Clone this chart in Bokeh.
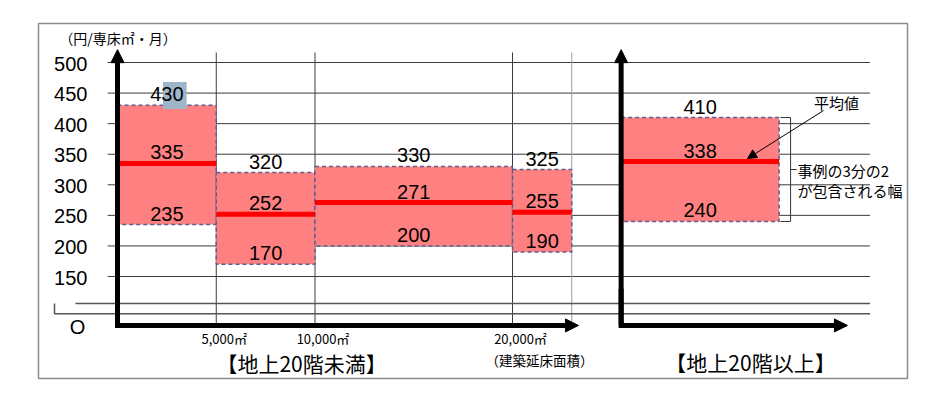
from bokeh.plotting import figure
from bokeh.models import Range1d, Arrow, NormalHead
from bokeh.core.properties import value
from bokeh.embed import file_html
from bokeh.resources import INLINE

# ---------------- data ----------------
categories = ["5,000㎡未満", "5,000〜10,000㎡", "10,000〜20,000㎡", "20,000㎡以上", "地上20階以上"]
upper = [430, 320, 330, 325, 410]     # 上限（事例の3分の2が包含される幅）
mean = [335, 252, 271, 255, 338]      # 平均値
lower = [235, 170, 200, 190, 240]     # 下限
y_ticks = [150, 200, 250, 300, 350, 400, 450, 500]
area_ticks = [5, 10, 20]              # 千㎡
area_tick_labels = ["5,000㎡", "10,000㎡", "20,000㎡"]

# ---------------- layout (x: floor area in 千㎡, y: 円/専床㎡・月) ----------------
box_left = [0, 5, 10, 20, 25.5]
box_right = [5, 10, 20, 23, 33.5]
grid_x = [5, 10, 20, 23]
AX1_X, AX2_X = 0, 25.5          # the two vertical axis arrows
AXIS_BASE = 70                  # broken axis: origin drawn here
AX_TIP_Y = 521
GRID_TOP = 516.4
GRID_L, GRID_R = -0.5, 38.1
X1_TIP, X2_TIP = 23.34, 36.96

NUM = value("Liberation Sans")
JP = value("Noto Sans CJK JP")

p = figure(width=909, height=380, x_range=Range1d(-4, 40), y_range=Range1d(-16.8, 563.8),
           min_border_left=38, min_border_top=23, min_border_right=2, min_border_bottom=2,
           x_axis_type=None, y_axis_type=None, toolbar_location=None, output_backend="svg",
           title=None)
p.outline_line_color = "#8c8c8c"
p.outline_line_width = 1.5
p.background_fill_color = "white"
p.border_fill_color = "white"

# horizontal grid lines (also act as ticks left of the axis)
p.segment(x0=[GRID_L] * len(y_ticks), x1=[GRID_R] * len(y_ticks), y0=y_ticks, y1=y_ticks,
          line_color="#3c3c3c", line_width=1)
# vertical grid lines
p.segment(x0=grid_x[:3], x1=grid_x[:3], y0=[GRID_TOP] * 3, y1=[AXIS_BASE] * 3,
          line_color="#3c3c3c", line_width=1)
p.segment(x0=grid_x[3:], x1=grid_x[3:], y0=[GRID_TOP], y1=[AXIS_BASE],
          line_color="#9a9a9a", line_width=1)
# axis break marks
p.line(x=[-3.19, -3.19, GRID_R], y=[106, 89, 89], line_color="#555555", line_width=1.5)
p.line(x=[-2.13, GRID_R], y=[106, 106], line_color="#555555", line_width=1.5)

# boxes
p.quad(left=box_left, right=box_right, bottom=lower, top=upper,
       fill_color="#ff8080", line_color="#5b5f8c", line_width=1.5, line_dash="4 3")
# mean lines
p.segment(x0=box_left, x1=box_right, y0=mean, y1=mean, line_color="#ff0000", line_width=5)

centers = [(a + b) / 2 for a, b in zip(box_left, box_right)]
# selection highlight behind "30" of the first max label
p.quad(left=[centers[0] - 0.2], right=[centers[0] + 1.0], bottom=[upper[0] - 6], top=[upper[0] + 38],
       fill_color="#9fb5ca", line_color=None)

for vals in (upper, mean, lower):
    p.text(x=centers, y=vals, text=[str(v) for v in vals], text_align="center",
           text_baseline="middle", y_offset=-11, text_font=NUM, text_font_size=value("20px"),
           text_color="black")

# y tick labels
p.text(x=[-1.52] * len(y_ticks), y=y_ticks, text=[str(v) for v in y_ticks], text_align="right",
       text_baseline="middle", y_offset=1, text_font=NUM, text_font_size=value("20px"),
       text_color="black")
p.text(x=[-2.03], y=[AXIS_BASE - 3], text=["O"], text_align="center", text_baseline="middle",
       text_font=NUM, text_font_size=value("20px"), text_color="black")

# unit label
p.text(x=[-2.95], y=[539.3], text=["（円/専床㎡・月）"], text_align="left", text_baseline="middle",
       text_font=JP, text_font_size=value("14px"), text_color="black")

# floor-area tick labels
p.text(x=area_ticks, y=[48.6] * 3, text=area_tick_labels, text_align="center", text_baseline="middle",
       x_offset=8, text_font=JP, text_font_size=value("13px"), text_color="black")
p.text(x=[21.37], y=[13.5], text=["（建築延床面積）"], text_align="center", text_baseline="middle",
       text_font=JP, text_font_size=value("13.5px"), text_color="black")
p.text(x=[9.32, 32.05], y=[9, 10], text=["【地上20階未満】", "【地上20階以上】"],
       text_align="center", text_baseline="middle",
       text_font=JP, text_font_size=value("21px"), text_color="black")

# bracket and notes
mid5 = (upper[4] + lower[4]) / 2
p.line(x=[33.57, 34.08, 34.08, 34.38, 34.08, 34.08, 33.57],
       y=[upper[4], upper[4], mid5, mid5, mid5, lower[4], lower[4]],
       line_color="#333333", line_width=1)
p.text(x=[34.43, 34.43], y=[323.4, 290.7], text=["事例の3分の2", "が包含される幅"],
       text_align="left", text_baseline="middle", text_font=JP, text_font_size=value("15px"),
       text_color="black")
p.text(x=[36.4], y=[435], text=["平均値"], text_align="center", text_baseline="middle",
       text_font=JP, text_font_size=value("15px"), text_color="black")
p.add_layout(Arrow(end=NormalHead(size=9, fill_color="black", line_color="black"),
                   x_start=35.75, y_start=421.5, x_end=31.9, y_end=mean[4] + 5,
                   line_color="black", line_width=1))

# axes (thick arrows)
for ax, xtip in ((AX1_X, X1_TIP), (AX2_X, X2_TIP)):
    p.line(x=[ax, ax, ax + 3], y=[AXIS_BASE + 60, AXIS_BASE, AXIS_BASE], line_color="black",
           line_width=5, line_join="miter")
    p.add_layout(Arrow(end=NormalHead(size=13, fill_color="black", line_color="black"),
                       x_start=ax, y_start=AXIS_BASE, x_end=ax, y_end=AX_TIP_Y,
                       line_color="black", line_width=5))
    p.add_layout(Arrow(end=NormalHead(size=13, fill_color="black", line_color="black"),
                       x_start=ax, y_start=AXIS_BASE, x_end=xtip, y_end=AXIS_BASE,
                       line_color="black", line_width=5))

open("out.html", "w").write(file_html(p, INLINE))
